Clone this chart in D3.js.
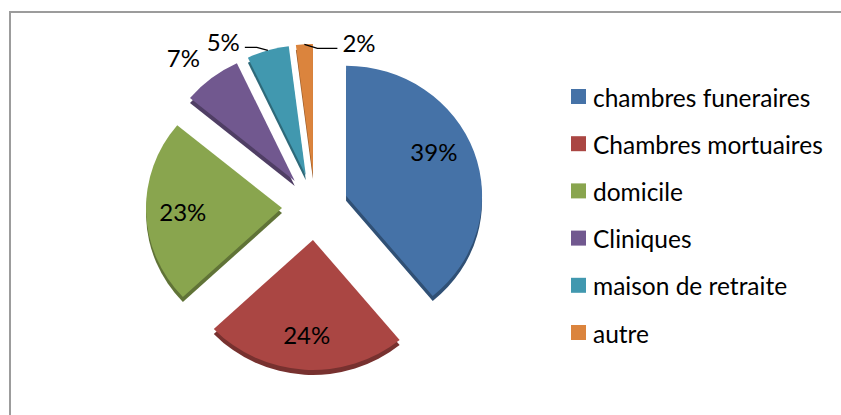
<!DOCTYPE html>
<html>
<head>
<meta charset="utf-8">
<script src="https://cdn.jsdelivr.net/npm/d3@7"></script>
<style>
  body { margin: 0; background: #fff; }
  text { font-family: Lato, "Open Sans", sans-serif; fill: #000; }
</style>
</head>
<body>
<div id="chart"></div>
<script>
// data
const categories = ["chambres funeraires", "Chambres mortuaires", "domicile", "Cliniques", "maison de retraite", "autre"];
const values = [39, 24, 23, 7, 5, 2];
const colors = ["#4572a7", "#aa4643", "#89a54e", "#71588f", "#4198af", "#db843d"];

const width = 841, height = 415;

const svg = d3.select("#chart").append("svg")
    .attr("width", width)
    .attr("height", height);

// frame (only top and left edges are inside the picture)
svg.append("rect")
    .attr("x", 10).attr("y", 12)
    .attr("width", 900).attr("height", 500)
    .attr("fill", "none")
    .attr("stroke", "#9c9c9c")
    .attr("stroke-width", 2);

// pie geometry
let cx = 315, cy = 207;
let rx = 136, ry = 130;
let explode = 33;
let depth = 5;

let pie = d3.pie().sort(null).value(d => d.value);
let arcs = pie(categories.map((c, i) => ({name: c, value: values[i], color: colors[i]})));

let arc = d3.arc().innerRadius(0).outerRadius(rx);

arcs.forEach(function (d) {
    d.mid = (d.startAngle + d.endAngle) / 2;
    d.ax = cx + explode * Math.sin(d.mid);
    d.ay = cy - explode * Math.cos(d.mid);
});

// point on the slice ellipse, relative to its apex
function onSlice(d, r, a) {
    return [d.ax + r * Math.sin(a), d.ay - r * (ry / rx) * Math.cos(a)];
}

let slices = svg.selectAll(".slice")
    .data(arcs)
    .enter()
    .append("g")
    .attr("class", "slice");

// side (thickness)
slices.append("path")
    .attr("transform", d => "translate(" + d.ax + "," + (d.ay + depth) + ") scale(1," + (ry / rx) + ")")
    .attr("d", arc)
    .attr("fill", d => d3.color(d.data.color).darker(1.0));

// top face
slices.append("path")
    .attr("transform", d => "translate(" + d.ax + "," + d.ay + ") scale(1," + (ry / rx) + ")")
    .attr("d", arc)
    .attr("fill", d => d.data.color);

// inside labels for big slices
let inside = arcs.filter(d => d.value >= 10);
svg.selectAll(".in-label")
    .data(inside)
    .enter()
    .append("text")
    .attr("class", "in-label")
    .attr("x", d => onSlice(d, rx * 0.73, d.mid - (d.index === 0 ? 0.14 : 0))[0])
    .attr("y", d => onSlice(d, rx * 0.73, d.mid - (d.index === 0 ? 0.14 : 0))[1])
    .attr("text-anchor", "middle")
    .attr("dominant-baseline", "central")
    .style("font-size", "24px")
    .text(d => d.value + "%");

// outside labels for small slices, with leader lines where Excel shifted them
let outsideLayout = {
    "Cliniques": {dx: -28, dy: -21, leader: false},
    "maison de retraite": {dx: -28, dy: -9, leader: true, side: "left"},
    "autre": {dx: 38, dy: -2, leader: true, side: "right"}
};

let outside = arcs.filter(d => d.value < 10);
outside.forEach(function (d) {
    let lay = outsideLayout[d.data.name];
    let edge = onSlice(d, rx, d.mid);
    let lx = edge[0] + lay.dx;
    let ly = edge[1] + lay.dy;
    let anchor = lay.side === "right" ? "start" : (lay.side === "left" ? "end" : "middle");

    svg.append("text")
        .attr("x", lx)
        .attr("y", ly)
        .attr("text-anchor", anchor)
        .attr("dominant-baseline", "central")
        .style("font-size", "24px")
        .text(d.value + "%");

    if (lay.leader) {
        let ex = lay.side === "right" ? lx - 5 : lx + 5;
        let knee = lay.side === "right" ? edge[0] + 13 : edge[0] - 11;
        svg.append("path")
            .attr("d", d3.line()([[edge[0], edge[1]], [knee, ly + 6], [ex, ly + 6]]))
            .attr("fill", "none")
            .attr("stroke", "#000")
            .attr("stroke-width", 1.3);
    }
});

// legend
let legendY = d3.scalePoint()
    .domain(categories)
    .range([97, 333]);

let legend = svg.selectAll(".legend")
    .data(categories)
    .enter()
    .append("g")
    .attr("class", "legend")
    .attr("transform", d => "translate(571," + legendY(d) + ")");

legend.append("rect")
    .attr("x", 0)
    .attr("y", -8)
    .attr("width", 15)
    .attr("height", 15)
    .attr("fill", (d, i) => colors[i]);

legend.append("text")
    .attr("x", 22)
    .attr("y", 0)
    .attr("dominant-baseline", "central")
    .style("font-size", "24.5px")
    .text(d => d);
</script>
</body>
</html>
